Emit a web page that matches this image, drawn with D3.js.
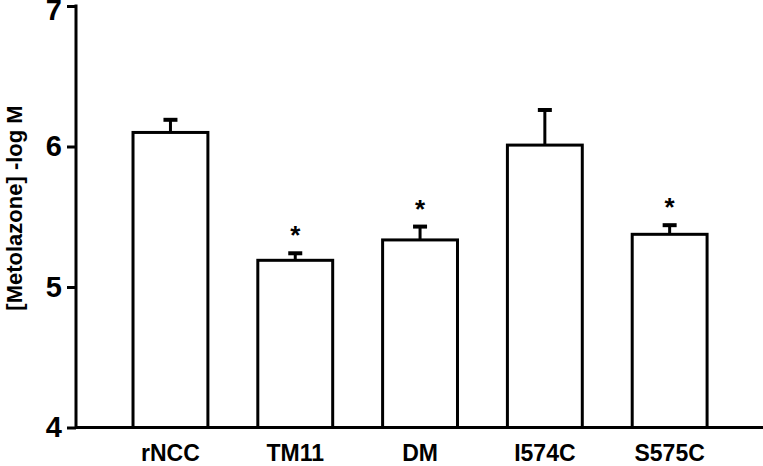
<!DOCTYPE html>
<html>
<head>
<meta charset="utf-8">
<script src="https://cdn.jsdelivr.net/npm/d3@7"></script>
<style>
  body { margin: 0; background: #fff; }
  svg { display: block; font-family: "Liberation Sans", Arial, sans-serif; font-weight: bold; }
</style>
</head>
<body>
<svg id="chart" width="763" height="466"></svg>
<script>
var groups = ['rNCC', 'TM11', 'DM', 'I574C', 'S575C'];
var means = [6.10, 5.19, 5.335, 6.01, 5.375];
var sems = [0.09, 0.05, 0.095, 0.25, 0.065];
var significant = [false, true, true, false, true];
var yTicks = [4, 5, 6, 7];

var svg = d3.select('#chart');

var y = d3.scaleLinear().domain([4, 7]).range([427.5, 6]);
var x = d3.scaleBand().domain(groups).range([83.1, 757]).paddingInner(0.4).paddingOuter(0.4);

var axisX = 76;

// y axis
var yAxis = svg.append('g')
  .attr('transform', 'translate(' + axisX + ',0)')
  .call(d3.axisLeft(y).tickValues(yTicks).tickFormat(d3.format('d')).tickSize(9).tickPadding(5));
yAxis.select('.domain').remove();
yAxis.selectAll('.tick line').attr('stroke', '#000').attr('stroke-width', 3);
yAxis.selectAll('.tick text')
  .attr('font-size', 29)
  .attr('font-weight', 'bold')
  .attr('font-family', '"Liberation Sans", Arial, sans-serif')
  .attr('fill', '#000');
// top label sits at the very edge; nudge it so it stays inside
yAxis.selectAll('.tick text').filter(function(d) { return d === 7; })
  .attr('dy', '0.47em');
yAxis.append('line')
  .attr('x1', 0).attr('x2', 0)
  .attr('y1', y(7) - 1.5).attr('y2', y(4) + 1.5)
  .attr('stroke', '#000').attr('stroke-width', 3);

// x axis baseline
svg.append('line')
  .attr('x1', axisX).attr('x2', 763)
  .attr('y1', y(4)).attr('y2', y(4))
  .attr('stroke', '#000').attr('stroke-width', 3);

// bars
svg.append('g').selectAll('rect')
  .data(groups)
  .join('rect')
  .attr('x', function(d) { return x(d); })
  .attr('y', function(d, i) { return y(means[i]); })
  .attr('width', x.bandwidth())
  .attr('height', function(d, i) { return y(4) - y(means[i]); })
  .attr('fill', '#fff')
  .attr('stroke', '#000')
  .attr('stroke-width', 3);

// error bars (upper only)
var err = svg.append('g');
groups.forEach(function(g, i) {
  var cx = x(g) + x.bandwidth() / 2;
  err.append('line')
    .attr('x1', cx).attr('x2', cx)
    .attr('y1', y(means[i])).attr('y2', y(means[i] + sems[i]))
    .attr('stroke', '#000').attr('stroke-width', 3);
  err.append('line')
    .attr('x1', cx - 7).attr('x2', cx + 7)
    .attr('y1', y(means[i] + sems[i])).attr('y2', y(means[i] + sems[i]))
    .attr('stroke', '#000').attr('stroke-width', 4);
  if (significant[i]) {
    svg.append('text')
      .attr('x', cx)
      .attr('y', y(means[i] + sems[i]) - 9)
      .attr('text-anchor', 'middle')
      .attr('font-size', 26)
      .text('*');
  }
});

// category labels
svg.append('g').selectAll('text')
  .data(groups)
  .join('text')
  .attr('x', function(d) { return x(d) + x.bandwidth() / 2; })
  .attr('y', 461)
  .attr('text-anchor', 'middle')
  .attr('font-size', 23)
  .text(function(d) { return d; });

// y title
svg.append('text')
  .attr('transform', 'translate(22,208) rotate(-90)')
  .attr('text-anchor', 'middle')
  .attr('font-size', 22)
  .text('[Metolazone] -log M');
</script>
</body>
</html>
